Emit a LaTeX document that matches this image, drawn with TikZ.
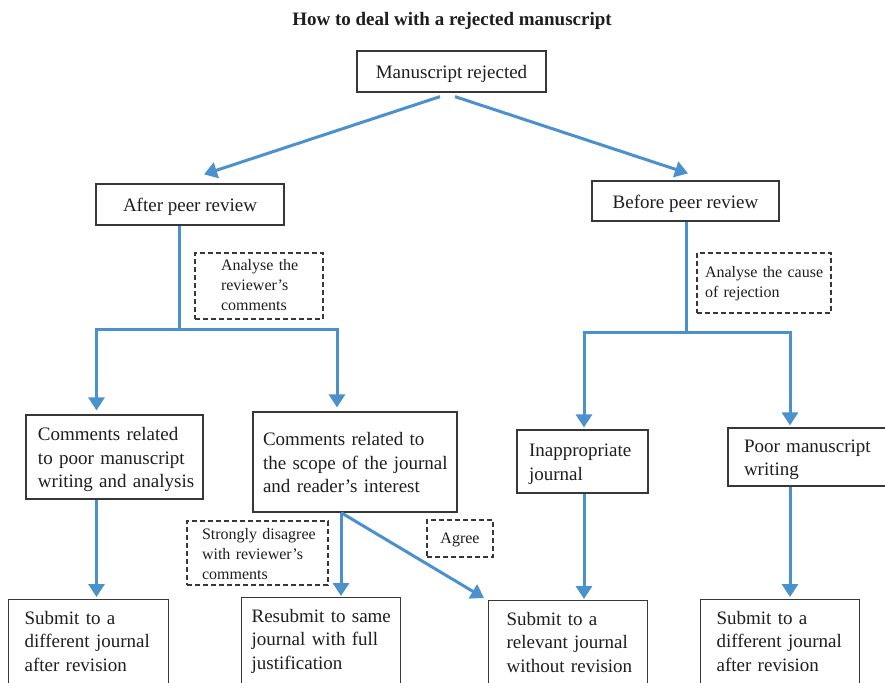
\documentclass[tikz,border=0pt]{standalone}
\usepackage{fontspec}
\setmainfont{Liberation Serif}
\usetikzlibrary{arrows.meta,calc}
\definecolor{flow}{RGB}{74,145,205}
\definecolor{edge}{RGB}{55,55,55}
\definecolor{ink}{RGB}{30,30,30}
% multi-line cell, centred (with a small downward nudge) or top-aligned
\newcommand\stack[2][-1.2pt]{\raisebox{#1}[\height][\depth]{\begin{tabular}{@{}l@{}}#2\end{tabular}}}
\newcommand\stackt[1]{\begin{tabular}[t]{@{}l@{}}#1\end{tabular}}

\begin{document}
\begin{tikzpicture}[x=0.5pt,y=-0.5pt,
  every node/.style={inner sep=0pt, text=ink},
  mainfont/.style={font=\fontsize{9.5}{11.75}\selectfont},
  smallfont/.style={font=\fontsize{8}{10}\selectfont},
  box/.style={draw=edge, line width=0.6pt, rectangle, mainfont, align=left},
  dbox/.style={draw=edge, line width=0.55pt, dash pattern=on 2.5pt off 1.5pt, rectangle, smallfont, align=left},
  cutbox/.style={box, anchor=north west, inner ysep=4pt, text depth=45pt},
  link/.style={draw=flow, line width=1.5pt},
  arr/.style={link, -{Triangle[length=6.5pt,width=8pt]}},
]
\useasboundingbox (0,0) rectangle (885,682);
\clip (0,0) rectangle (885,682);

% title
\node[font=\bfseries\fontsize{9.5}{11.75}\selectfont] (title) at (452,21) {How to deal with a rejected manuscript};

% top levels
\node[box, minimum width=94.5pt, minimum height=20.5pt] (rej) at (451.5,71.5) {\stack{Manuscript rejected}};
\node[box, minimum width=94pt, minimum height=20.5pt] (after) at (190,204.5) {\stack{After peer review}};
\node[box, minimum width=93.5pt, minimum height=20pt] (before) at (685.5,201) {\stack{Before peer review}};

% annotations
\node[dbox, minimum width=64pt, minimum height=33pt, text width=38pt] (ana1) at (259,286) {\stack[0pt]{Analyse the\\reviewer’s\\comments}};
\node[dbox, minimum width=67pt, minimum height=30pt, text width=59pt] (ana2) at (764,283) {\stack[0pt]{Analyse the cause\\of rejection}};

% causes
\node[box, minimum height=42pt, text width=76.5pt, inner xsep=6pt] (cpoor) at (114.5,457) {\stack{Comments related\\to poor manuscript\\writing and analysis}};
\node[box, minimum height=50pt, text width=92pt, inner xsep=5pt] (cscope) at (355,462) {\stack{Comments related to\\the scope of the journal\\and reader’s interest}};
\node[box, minimum height=31.5pt, text width=53.5pt, inner xsep=6pt] (inapp) at (582.5,461.5) {\stack{Inappropriate\\journal}};
\node[box, minimum height=29pt, text width=65pt, inner xsep=8pt] (pms) at (809,457) {\stack{Poor manuscript\\writing}};

% decisions
\node[dbox, minimum height=32pt, text width=55.5pt, inner xsep=7.5pt] (disagree) at (257.5,553) {\stack[-1.4pt]{Strongly disagree\\with reviewer’s\\comments}};
\node[dbox, minimum width=33pt, minimum height=18.5pt] (agree) at (460,538.5) {\stack[-0.5pt]{Agree}};

% outcomes
\node[cutbox, text width=64pt, inner xsep=8pt] (sub1) at (8,599) {\stackt{Submit to a\\different journal\\after revision}};
\node[cutbox, text width=69.5pt, inner xsep=5pt] (resub) at (241,597) {\stackt{Resubmit to same\\journal with full\\justification}};
\node[cutbox, text width=61.5pt, inner xsep=9pt] (relev) at (488,600) {\stackt{Submit to a\\relevant journal\\without revision}};
\node[cutbox, text width=63.5pt, inner xsep=8pt] (sub2) at (700,599) {\stackt{Submit to a\\different journal\\after revision}};

% connectors
\draw[arr] ($(rej.south)+(-11.5,4)$) -- ($(after.north)+(14,-9)$);
\draw[arr] ($(rej.south)+(3.5,4)$) -- ($(before.north)+(2.5,-7)$);

\coordinate (a0) at ($(after.south)+(-11,0)$);
\coordinate (aj) at ($(after.south)+(-11,104)$);
\draw[link] (a0) -- (aj);
\draw[arr] (aj) -| ($(cpoor.north)+(-18,-4)$);
\draw[arr] (aj) -| ($(cscope.north)+(-18,-4)$);

\coordinate (b0) at ($(before.south)+(0.5,0)$);
\coordinate (bj) at ($(before.south)+(0.5,111)$);
\draw[link] (b0) -- (bj);
\draw[arr] (bj) -| ($(inapp.north)+(1.5,-2)$);
\draw[arr] (bj) -| ($(pms.north)+(-19,-2)$);

\coordinate (c1) at ($(cpoor.south)+(-18,0)$);
\draw[arr, shorten >=1pt] (c1) -- (c1 |- sub1.north);
\coordinate (c2) at ($(cscope.south)+(-14,0)$);
\draw[arr, shorten >=0.5pt] (c2) -- (c2 |- resub.north);
\draw[arr] (c2) -- ($(relev.north west)+(-4,-2)$);
\coordinate (c3) at ($(inapp.south)+(1.5,0)$);
\draw[arr, shorten >=0.5pt] (c3) -- (c3 |- relev.north);
\coordinate (c4) at ($(pms.south)+(-19,0)$);
\draw[arr, shorten >=1pt] (c4) -- (c4 |- sub2.north);
\end{tikzpicture}
\end{document}
